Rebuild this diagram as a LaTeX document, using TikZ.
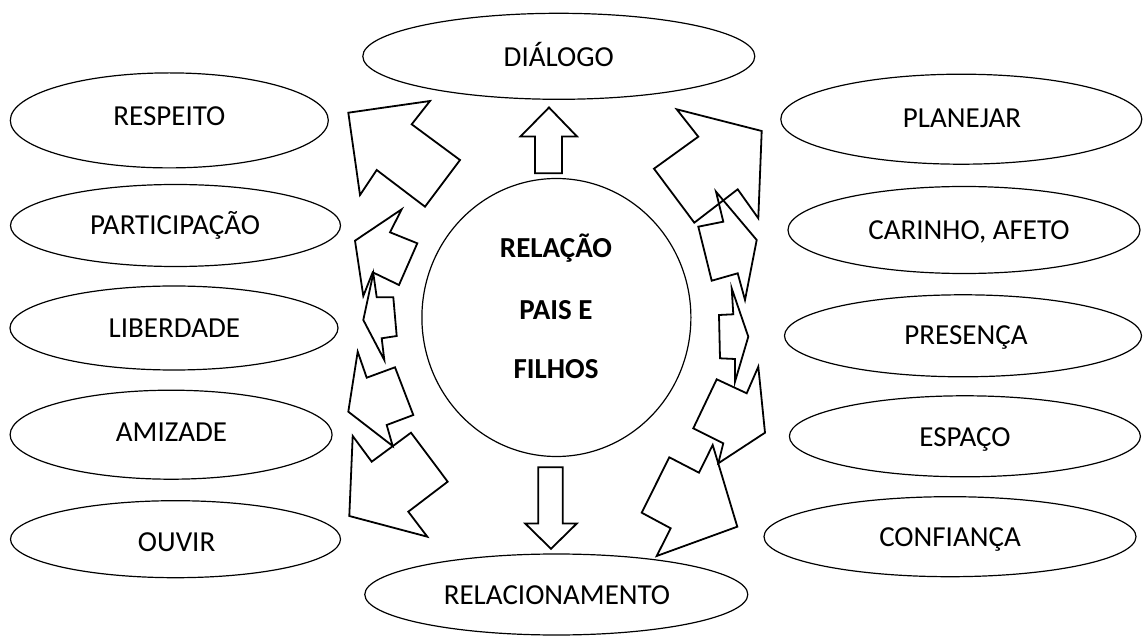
\documentclass[tikz,border=0pt]{standalone}
\usepackage{fontspec}
\setmainfont{Carlito}
\usetikzlibrary{shapes.geometric}
\begin{document}
\begin{tikzpicture}[x=1pt,y=-1pt,
  ell/.style={draw, ellipse, line width=1.2pt, inner sep=0pt},
  lbl/.style={inner sep=0pt, font=\fontsize{29}{34}\selectfont, text height=18.7pt, text depth=0pt},
  blbl/.style={lbl, font=\fontsize{29}{34}\selectfont\bfseries},
  blockarrow/.style={draw, line width=1.8pt, line join=miter}]
\useasboundingbox (0,0) rectangle (1144,636);
% centre
\node[ell, minimum width=269pt, minimum height=278pt] (centro) at (556.4,317.5) {};
\node[blbl] (t1) at (556,248) {RELAÇÃO};
\node[blbl] (t2) at (556,310) {PAIS E};
\node[blbl] (t3) at (556,369) {FILHOS};
% ellipses
\node[ell, minimum width=392pt, minimum height=86pt] (dialogo) at (558.8,56.3) {};
\node[lbl] (dialogoT) at (558.8,57) {DIÁLOGO};
\node[ell, minimum width=318pt, minimum height=95pt] (respeito) at (169.3,120.4) {};
\node[lbl] (respeitoT) at (169.4,116.2) {RESPEITO};
\node[ell, minimum width=330pt, minimum height=82pt] (particip) at (175.5,225.5) {};
\node[lbl] (participT) at (175,225) {PARTICIPAÇÃO};
\node[ell, minimum width=328pt, minimum height=84pt] (liberdade) at (174,328) {};
\node[lbl] (liberdadeT) at (174.4,328.3) {LIBERDADE};
\node[ell, minimum width=322pt, minimum height=89pt] (amizade) at (171.1,434.7) {};
\node[lbl] (amizadeT) at (171.5,432.3) {AMIZADE};
\node[ell, minimum width=330pt, minimum height=77pt] (ouvir) at (175.5,539.2) {};
\node[lbl] (ouvirT) at (176.6,541.7) {OUVIR};
\node[ell, minimum width=361pt, minimum height=90pt] (planejar) at (961.3,119.2) {};
\node[lbl] (planejarT) at (962,118.3) {PLANEJAR};
\node[ell, minimum width=352pt, minimum height=87pt] (carinho) at (964,230) {};
\node[lbl] (carinhoT) at (969,230) {CARINHO, AFETO};
\node[ell, minimum width=357pt, minimum height=82pt] (presenca) at (963,335.8) {};
\node[lbl] (presencaT) at (966,335) {PRESENÇA};
\node[ell, minimum width=351pt, minimum height=81pt] (espaco) at (964.9,436.3) {};
\node[lbl] (espacoT) at (965,436.7) {ESPAÇO};
\node[ell, minimum width=372pt, minimum height=80pt] (confianca) at (950,536.7) {};
\node[lbl] (confiancaT) at (950,537.3) {CONFIANÇA};
\node[ell, minimum width=383pt, minimum height=81pt] (relacion) at (556.3,594.5) {};
\node[lbl] (relacionT) at (557,595) {RELACIONAMENTO};
% up / down arrows
\draw[blockarrow] (549,107.5) -- (577,136.5) -- (562,136.5) -- (562,173.3) -- (535,173.3) -- (535,136.5) -- (520.5,136.5) -- cycle;
\draw[blockarrow] (538.3,467.3) -- (562.7,467.3) -- (562.7,523.5) -- (576.8,523.5) -- (551,548.8) -- (525.2,523.5) -- (538.3,523.5) -- cycle;
% left arrows
\draw[blockarrow] (348.3,112.7) -- (430,101) -- (411.7,124.3) -- (460,160) -- (425,206.7) -- (376.7,170) -- (360,195) -- cycle;
\draw[blockarrow] (355,240.7) -- (401.7,209.3) -- (390,232.3) -- (417.3,243.3) -- (399,285) -- (372.7,272.3) -- (363.3,296) -- cycle;
\draw[blockarrow] (363.3,320) -- (373.3,273.3) -- (376.7,297.3) -- (393.3,297.3) -- (396.7,336) -- (381.7,338.3) -- (384.3,360) -- cycle;
\draw[blockarrow] (348.3,411.7) -- (357.7,351.7) -- (366.7,377.7) -- (395,367.3) -- (413.3,415) -- (386.7,425) -- (392.7,446) -- cycle;
\draw[blockarrow] (349.3,516) -- (352.7,436) -- (371.7,461.7) -- (411,432.7) -- (447.7,481.7) -- (408.3,511.7) -- (427.3,536.7) -- cycle;
% right arrows
\draw[blockarrow] (761.7,131) -- (676.7,109.3) -- (698.3,136.7) -- (654,168.7) -- (694.3,222.7) -- (737.7,189.3) -- (758.3,218.3) -- cycle;
\draw[blockarrow] (756.7,240) -- (716,191.7) -- (723.3,221.7) -- (698.3,226.7) -- (711.7,280.7) -- (737.7,273.3) -- (745,300) -- cycle;
\draw[blockarrow] (748.3,336.7) -- (731.7,288.3) -- (733.3,314.3) -- (719,315) -- (720,358.3) -- (735,359) -- (735,381.7) -- cycle;
\draw[blockarrow] (765,432.7) -- (758.3,366.7) -- (746.7,393.3) -- (716.7,379.3) -- (693.3,428.3) -- (723.3,443.3) -- (718.3,463.3) -- cycle;
\draw[blockarrow] (737.3,526.7) -- (712.7,445) -- (699,472.7) -- (669.3,457.3) -- (641.7,512.7) -- (670.7,528.3) -- (656.7,556) -- cycle;
\end{tikzpicture}
\end{document}
